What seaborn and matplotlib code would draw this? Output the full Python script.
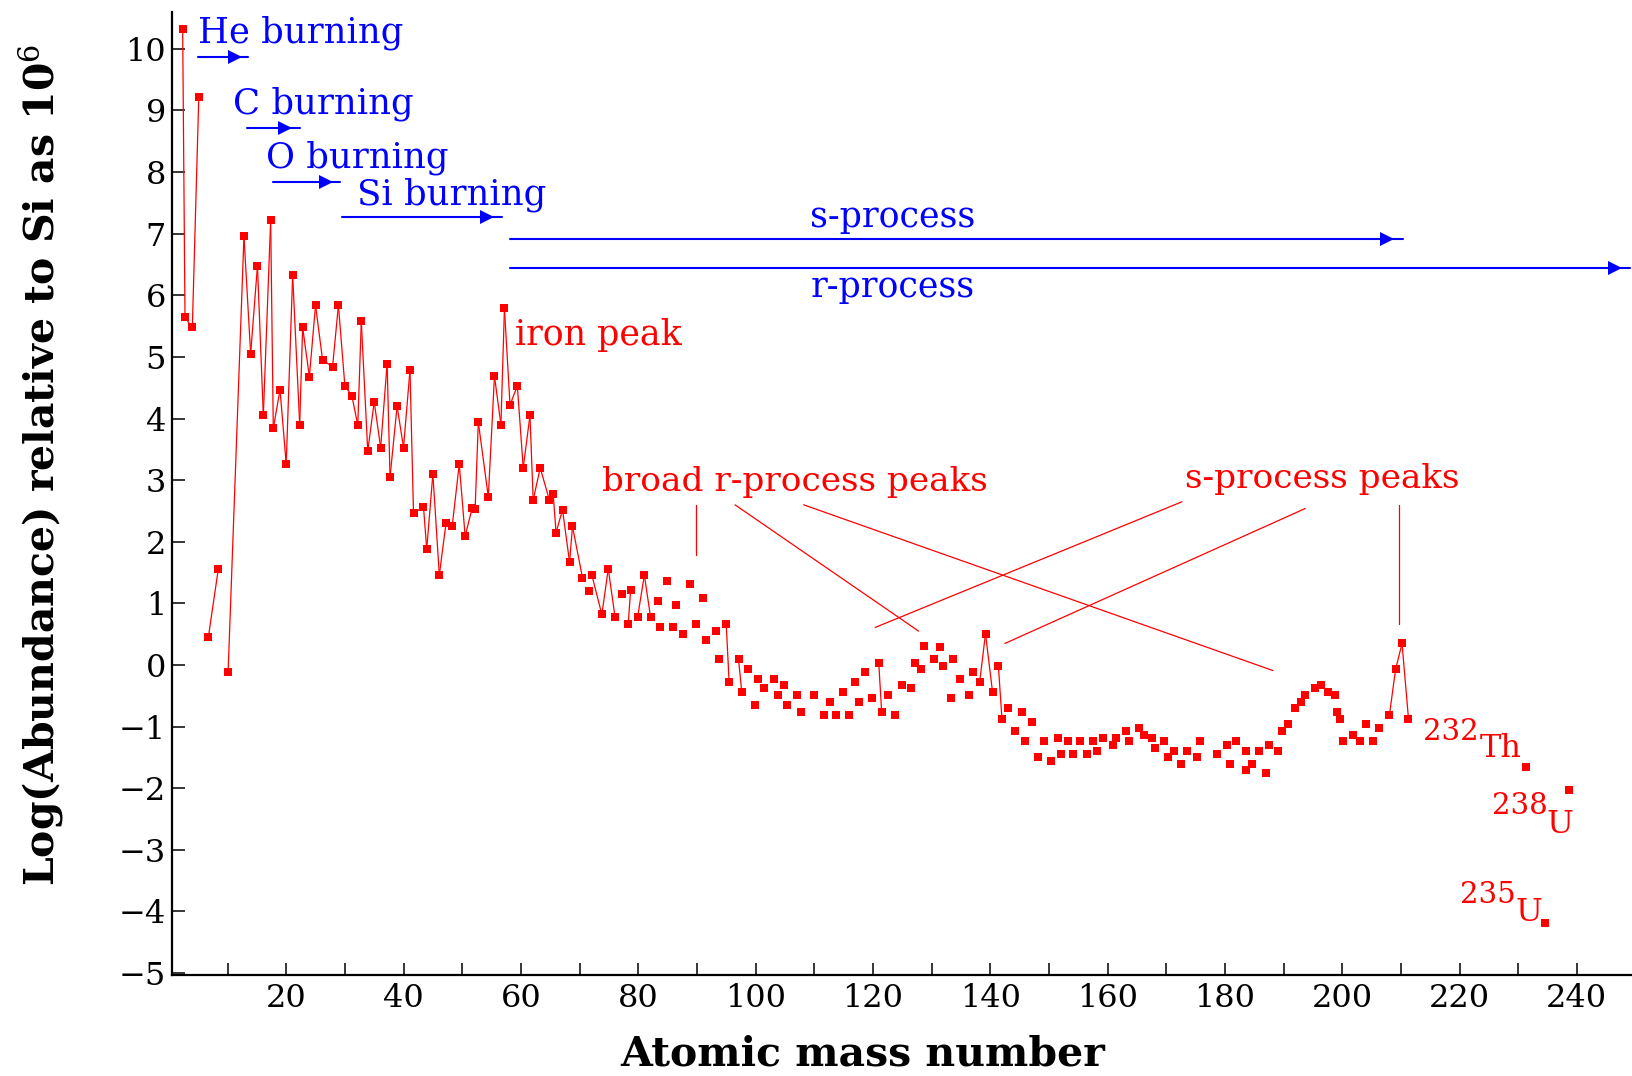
import numpy as np
import pandas as pd
import seaborn as sns
import matplotlib.pyplot as plt

# solar system abundances, log scale relative to Si = 10^6
mass_h_he = [2.35, 2.75, 4.0, 5.1]
abund_h_he = [10.33, 5.64, 5.48, 9.22]

mass_li = [6.73, 8.43]
abund_li = [0.45, 1.56]

mass_light = [10.1, 12.8, 13.94, 15.1, 16.1, 17.35, 17.8, 18.95, 20.0, 21.1,
              22.3, 22.8, 23.95, 25.0, 26.2, 27.9, 28.9, 30.0, 31.2, 32.2,
              32.8, 33.9, 35.0, 36.1, 37.2, 37.7, 38.9, 40.0]
abund_light = [-0.11, 6.96, 5.05, 6.48, 4.05, 7.22, 3.84, 4.47, 3.26, 6.33,
               3.90, 5.48, 4.68, 5.84, 4.95, 4.84, 5.84, 4.53, 4.37, 3.89,
               5.58, 3.47, 4.27, 3.53, 4.89, 3.05, 4.20, 3.53]

mass_iron = [41.1, 41.7, 43.4, 43.95, 45.0, 46.1, 47.25, 48.3, 49.5, 50.5,
             51.7, 52.2, 52.75, 54.45, 55.5, 56.6, 57.2, 58.15, 59.4, 60.4,
             61.55, 62.1, 63.3, 64.85, 65.5, 66.0, 67.1, 68.3, 68.8]
abund_iron = [4.79, 2.46, 2.57, 1.88, 3.10, 1.46, 2.31, 2.26, 3.26, 2.09,
              2.55, 2.53, 3.94, 2.73, 4.69, 3.90, 5.79, 4.22, 4.53, 3.20,
              4.05, 2.68, 3.20, 2.68, 2.78, 2.15, 2.52, 1.67, 2.25]

mass_mid = [70.5, 71.6, 72.1, 73.8, 74.9, 76.05, 77.2, 78.3, 78.7, 79.9,
            81.05, 82.1, 83.3, 83.8, 84.9, 86.0, 86.45, 87.7, 88.8, 89.8,
            91.0, 91.6, 93.2, 93.8, 95.0, 95.5, 97.1, 97.65, 98.8, 99.9,
            100.5, 101.5, 103.2, 103.8, 104.9, 105.4, 107.1, 107.7, 109.9, 111.6,
            112.7, 113.7, 114.9, 115.9, 117.0, 117.65, 118.7, 119.8, 121.0, 121.5,
            122.65, 123.8, 124.9, 126.5, 127.1, 128.2, 128.7, 130.4]
abund_mid = [1.42, 1.20, 1.46, 0.82, 1.56, 0.78, 1.16, 0.67, 1.21, 0.78,
             1.46, 0.78, 1.04, 0.62, 1.36, 0.62, 0.98, 0.51, 1.31, 0.67,
             1.09, 0.40, 0.56, 0.09, 0.67, -0.28, 0.09, -0.43, -0.07, -0.65,
             -0.23, -0.38, -0.23, -0.49, -0.33, -0.65, -0.49, -0.76, -0.49, -0.81,
             -0.60, -0.81, -0.43, -0.81, -0.28, -0.60, -0.12, -0.54, 0.04, -0.76,
             -0.49, -0.81, -0.33, -0.38, 0.04, -0.07, 0.31, 0.09]

mass_heavy = [131.5, 132.0, 133.4, 133.7, 134.8, 136.4, 137.0, 138.2, 139.2, 140.4,
              141.4, 142.0, 143.1, 144.2, 145.4, 145.95, 147.1, 148.1, 149.2, 150.4,
              151.5, 152.0, 153.2, 154.2, 155.3, 156.5, 157.5, 158.2, 159.2, 160.9,
              161.5, 163.1, 163.7, 165.3, 166.3, 167.5, 168.1, 169.7, 170.3, 171.4,
              172.5, 173.6, 175.3, 175.8, 178.6, 180.3, 180.9, 181.9, 183.6, 183.6,
              184.7, 185.8, 187.0, 187.5, 189.1, 189.7, 190.8, 191.9, 193.0, 193.6,
              195.3, 196.4, 197.5, 198.7, 199.2, 199.6, 200.2, 201.9, 203.0, 204.1,
              205.2, 206.35, 208.05, 209.1, 210.2, 211.3]
abund_heavy = [0.30, -0.02, -0.54, 0.09, -0.23, -0.49, -0.12, -0.28, 0.51, -0.44,
               -0.02, -0.87, -0.70, -1.07, -0.76, -1.23, -0.92, -1.49, -1.23, -1.55,
               -1.18, -1.44, -1.23, -1.44, -1.23, -1.44, -1.23, -1.39, -1.18, -1.29,
               -1.18, -1.07, -1.23, -1.02, -1.13, -1.18, -1.34, -1.23, -1.49, -1.39,
               -1.60, -1.39, -1.49, -1.23, -1.44, -1.29, -1.60, -1.23, -1.40, -1.71,
               -1.60, -1.40, -1.76, -1.29, -1.40, -1.07, -0.96, -0.70, -0.60, -0.49,
               -0.38, -0.33, -0.44, -0.49, -0.76, -0.87, -1.23, -1.13, -1.23, -0.96,
               -1.23, -1.02, -0.81, -0.07, 0.35, -0.87]

# Th-232, U-235, U-238 (no connecting lines)
mass_act = [231.3, 234.6, 238.6]
abund_act = [-1.65, -4.19, -2.03]

# beyond A~70 only the big jumps show a connecting line
JOIN_FROM = [72.1, 73.8, 74.9, 78.3, 79.9, 81.05, 95.0, 97.1, 121.0,
             138.2, 139.2, 141.4, 208.05, 209.1, 210.2]

RED = "#ff0000"
BLUE = "#0000ff"

groups = [(mass_h_he, abund_h_he), (mass_li, abund_li),
          (mass_light + mass_iron + mass_mid + mass_heavy,
           abund_light + abund_iron + abund_mid + abund_heavy)]
groups += [([m], [a]) for m, a in zip(mass_act, abund_act)]

df = pd.concat([pd.DataFrame({"mass": m, "abund": a, "group": g})
                for g, (m, a) in enumerate(groups)], ignore_index=True)

rows = []
seg = 0
for g, sub in df.groupby("group", sort=False):
    ms = sub["mass"].to_numpy()
    ab = sub["abund"].to_numpy()
    for i in range(len(ms) - 1):
        if ms[i] < 70 or np.any(np.isclose(ms[i], JOIN_FROM)):
            rows.append((ms[i], ab[i], seg))
            rows.append((ms[i + 1], ab[i + 1], seg))
            seg += 1
segs = pd.DataFrame(rows, columns=["mass", "abund", "seg"])

sns.set_style("ticks")
plt.rcParams["font.family"] = ["DejaVu Serif", "DejaVu Sans"]
plt.rcParams["mathtext.fontset"] = "dejavuserif"

fig = plt.figure(figsize=(16.32, 10.76), dpi=100)
ax = fig.add_axes([0.1052, 0.0939, 0.8948, 0.8945])

sns.lineplot(data=segs, x="mass", y="abund", units="seg", estimator=None,
             sort=False, color=RED, lw=0.9, ax=ax, legend=False)
sns.scatterplot(data=df, x="mass", y="abund", marker="s", s=28, color=RED,
                linewidth=0, ax=ax, zorder=3, legend=False)

# burning stage arrows: (start, end, head, y)
arrows = [(4.9, 13.55, 11.3, 9.86), (13.27, 22.35, 19.8, 8.71),
          (17.8, 29.2, 26.7, 7.84), (29.45, 56.7, 54.3, 7.27),
          (58.15, 210.3, 207.7, 6.92), (58.15, 249.1, 246.5, 6.44)]
for x0, x1, xh, y in arrows:
    ax.plot([x0, x1], [y, y], color=BLUE, lw=1.5)
    ax.plot([xh], [y], marker=">", ms=10, color=BLUE, mew=0)

burn_labels = [("He burning", 4.9, 10.1), ("C burning", 10.9, 8.95),
               ("O burning", 16.6, 8.07), ("Si burning", 32.0, 7.48)]
for s, x, y in burn_labels:
    ax.text(x, y, s, color=BLUE, fontsize=25.5, ha="left", va="baseline")
ax.text(123.4, 7.11, "s-process", color=BLUE, fontsize=25, ha="center", va="baseline")
ax.text(123.4, 5.98, "r-process", color=BLUE, fontsize=25, ha="center", va="baseline")

ax.text(59.05, 5.19, "iron peak", color=RED, fontsize=25, va="baseline")
ax.text(73.8, 2.82, "broad r-process peaks", color=RED, fontsize=24.7, va="baseline")
ax.text(173.2, 2.88, "s-process peaks", color=RED, fontsize=24.7, va="baseline")

pointers = [((89.86, 89.86), (2.60, 1.79)), ((96.5, 127.8), (2.60, 0.55)),
            ((108.2, 188.2), (2.60, -0.09)), ((172.7, 120.4), (2.65, 0.61)),
            ((193.7, 142.5), (2.54, 0.35)), ((209.6, 209.6), (2.60, 0.66))]
for xs, ys in pointers:
    ax.plot(xs, ys, color=RED, lw=0.9)

isotopes = [("232", 213.85, -1.21, "Th", 223.5, -1.50),
            ("238", 225.5, -2.42, "U", 234.9, -2.72),
            ("235", 220.0, -3.86, "U", 229.5, -4.16)]
for num, xn, yn, sym, xs_, ys_ in isotopes:
    ax.text(xn, yn, num, color=RED, fontsize=21, va="baseline")
    ax.text(xs_, ys_, sym, color=RED, fontsize=23, va="baseline")

ax.set_xlim(0.48, 249.4)
ax.set_ylim(-5.03, 10.59)
ax.set_xticks(range(20, 241, 20))
ax.set_xticks(range(10, 250, 10), minor=True)
ax.set_yticks(range(-5, 11))
ax.tick_params(which="both", direction="in", length=9, width=1.1,
               color="black", labelcolor="black")
ax.tick_params(axis="x", pad=6, labelsize=23)
ax.tick_params(axis="y", pad=4, labelsize=23)
sns.despine(ax=ax)
for side in ["left", "bottom"]:
    ax.spines[side].set_linewidth(1.6)
    ax.spines[side].set_color("black")

ax.set_xlabel("Atomic mass number", fontfamily="DejaVu Serif",
              fontweight="bold", fontsize=29.5, color="black")
ax.xaxis.set_label_coords(0.473, -0.0615)
ax.set_ylabel(r"Log(Abundance) relative to Si as 10$^6$", fontfamily="DejaVu Serif",
              fontweight="bold", fontsize=29.5, color="black")
ax.yaxis.set_label_coords(-0.089, 0.530)
ax.yaxis.label.set_va("center")

fig.savefig("out.png", dpi=100)
